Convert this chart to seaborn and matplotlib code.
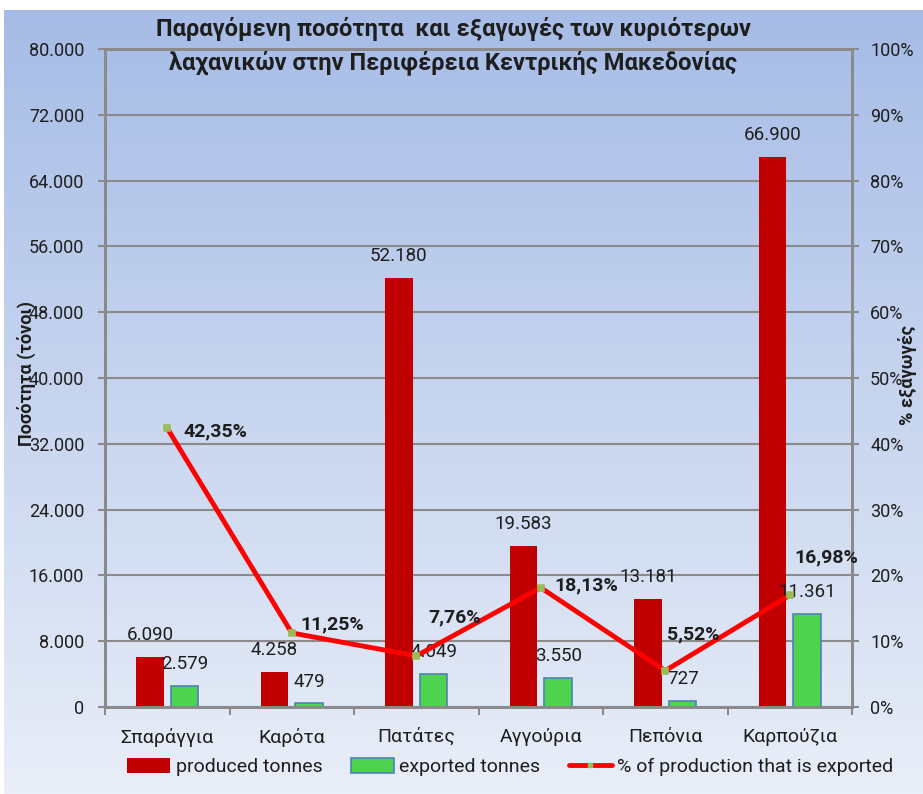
import numpy as np
import pandas as pd
import matplotlib
matplotlib.use("Agg")
import matplotlib.pyplot as plt
import seaborn as sns
from matplotlib.colors import LinearSegmentedColormap
from matplotlib.patches import Patch
from matplotlib.lines import Line2D
from matplotlib.ticker import FuncFormatter, FixedLocator

# Δεδομένα
proionta = ['Σπαράγγια', 'Καρότα', 'Πατάτες', 'Αγγούρια', 'Πεπόνια', 'Καρπούζια']
paragomena = [6090, 4258, 52180, 19583, 13181, 66900]
exagomena = [2579, 479, 4049, 3550, 727, 11361]
pososto = [42.35, 11.25, 7.76, 18.13, 5.52, 16.98]

seires = ['produced tonnes', 'exported tonnes']
label_grammi = '% of production that is exported'
titlos = 'Παραγόμενη ποσότητα  και εξαγωγές των κυριότερων\nλαχανικών στην Περιφέρεια Κεντρικής Μακεδονίας'

# offsets (points) for the percentage labels
offsets_pct = [(11.5, -2), (6, 6), (8.5, 28), (10, 1.5), (1.5, 26), (3.5, 27)]

sns.set_style('ticks')
plt.rcParams['font.family'] = ['Roboto', 'DejaVu Sans']
keimeno = '#1e1e1e'
gkri = '#8a8a8a'

df = pd.DataFrame({
    'proion': proionta * 2,
    'tonoi': paragomena + exagomena,
    'seira': [seires[0]] * len(proionta) + [seires[1]] * len(proionta),
})

fig = plt.figure(figsize=(9.23, 7.94), dpi=100)
fig.patch.set_facecolor('white')

# Φόντο με διαβάθμιση
bg = fig.add_axes([0.004, 0.0, 0.996, 0.988], zorder=-10)
cmap_bg = LinearSegmentedColormap.from_list('bg', ['#e9eef8', '#a6bce6'])
bg.imshow(np.linspace(0, 1, 256).reshape(-1, 1)[::-1], aspect='auto', cmap=cmap_bg,
          extent=[0, 1, 0, 1])
bg.axis('off')

ax = fig.add_axes([0.1138, 0.1096, 0.8093, 0.8287])
ax.set_zorder(1)
ax.patch.set_visible(False)

sns.barplot(data=df, x='proion', y='tonoi', hue='seira', hue_order=seires,
            palette={seires[0]: '#c00000', seires[1]: '#4ed34e'},
            width=0.56, gap=0.21, ax=ax, legend=False, saturation=1)

for p in ax.containers[0]:
    p.set_edgecolor('none')
for p in ax.containers[1]:
    p.set_edgecolor('#4f81bd')
    p.set_linewidth(1.2)

fmt_thous = lambda v: f'{int(v):,}'.replace(',', '.')
for cont, vals in zip(ax.containers, [paragomena, exagomena]):
    ax.bar_label(cont, labels=[fmt_thous(v) for v in vals], padding=9,
                 fontsize=13.5, color=keimeno)

ax.set_ylim(0, 80000)
ax.set_yticks(np.arange(0, 80001, 8000))
ax.yaxis.set_major_formatter(FuncFormatter(lambda v, p: fmt_thous(v)))
ax.set_xlim(-0.5, len(proionta) - 0.5)
ax.yaxis.grid(True, color=gkri, lw=1.5)
ax.set_axisbelow(True)
ax.set_xlabel('')
ax.set_ylabel('')

ax2 = ax.twinx()
ax2.set_zorder(2)
ax2.patch.set_visible(False)
sns.pointplot(x=proionta, y=pososto, ax=ax2, color='#ff0000', markers='s',
              markersize=3, linewidth=3.5, errorbar=None)
for ln in ax2.lines:
    ln.set_markerfacecolor('#9bbb59')
    ln.set_markeredgecolor('#9bbb59')
ax2.set_ylim(0, 100)
ax2.set_yticks(np.arange(0, 101, 10))
ax2.yaxis.set_major_formatter(FuncFormatter(lambda v, p: f'{int(v)}%'))
ax2.set_ylabel('')
ax2.set_xlim(-0.5, len(proionta) - 0.5)

for i, (v, off) in enumerate(zip(pososto, offsets_pct)):
    ax2.annotate(f'{v:.2f}'.replace('.', ',') + '%', (i, v), xytext=off,
                 textcoords='offset points', ha='left', va='center',
                 fontsize=14, fontweight='bold', color=keimeno)

# Άξονες / ticks
for a in (ax, ax2):
    for s in a.spines.values():
        s.set_color(gkri)
        s.set_linewidth(2)
ax.tick_params(axis='y', length=5, width=1.5, color=gkri, labelsize=13,
               labelcolor=keimeno, pad=10)
ax2.tick_params(axis='y', length=5, width=1.5, color=gkri, labelsize=13,
                labelcolor=keimeno, pad=8)
ax.tick_params(axis='x', which='major', length=0, labelsize=14, labelcolor=keimeno, pad=15)
ax.xaxis.set_minor_locator(FixedLocator(np.arange(-0.5, len(proionta), 1)))
ax.tick_params(axis='x', which='minor', length=6, width=1.5, color=gkri)
ax2.tick_params(axis='x', which='both', length=0)

# Τίτλοι αξόνων
fig.text(0.029, 0.53, 'Ποσότητα (τόνοι)', rotation=90, ha='center', va='center',
         fontsize=13, fontweight='bold', color=keimeno)
fig.text(0.983, 0.528, '% εξαγωγές', rotation=90, ha='center', va='center',
         fontsize=13, fontweight='bold', color=keimeno)

fig.text(0.491, 0.942, titlos, ha='center', va='center', fontsize=17,
         fontweight='bold', color=keimeno, linespacing=1.45)

handles = [Patch(facecolor='#c00000', edgecolor='none'),
           Patch(facecolor='#4ed34e', edgecolor='#4f81bd', linewidth=1.2),
           Line2D([], [], color='#ff0000', lw=3.5, marker='s', markersize=3,
                  markerfacecolor='#9bbb59', markeredgecolor='#9bbb59')]
fig.legend(handles, seires + [label_grammi], loc='center', bbox_to_anchor=(0.553, 0.034),
           ncol=3, frameon=False, fontsize=14, handlelength=2.2, handleheight=0.8,
           handletextpad=0.3, columnspacing=1.45, labelcolor=keimeno)

fig.savefig('out.png', dpi=100)
